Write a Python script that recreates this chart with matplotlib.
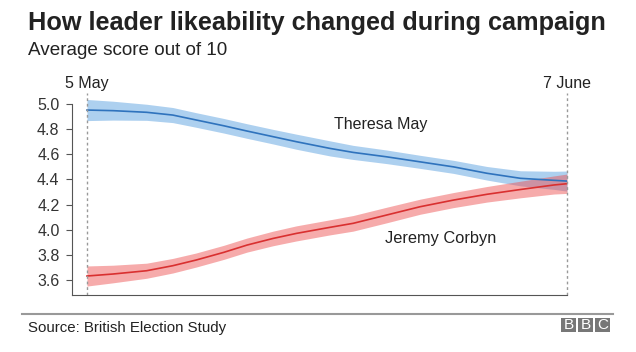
import numpy as np
import matplotlib
matplotlib.use("Agg")
import matplotlib.pyplot as plt
from matplotlib.patches import Rectangle

plt.rcParams['font.family'] = ['Liberation Sans', 'DejaVu Sans']

# days since 5 May 2017
days = [0, 1.8, 4.1, 5.9, 7.5, 9.4, 11, 12.8, 14.4, 16.7, 18.3, 20.6, 22.9, 25.2, 27.5, 29.8, 32.1, 33]
may = [4.952, 4.947, 4.934, 4.912, 4.873, 4.827, 4.785, 4.74, 4.70, 4.647,
       4.615, 4.58, 4.54, 4.50, 4.449, 4.409, 4.393, 4.387]
may_err = [0.084, 0.075, 0.064, 0.06, 0.058, 0.058, 0.058, 0.058, 0.06, 0.06,
           0.056, 0.054, 0.052, 0.052, 0.054, 0.06, 0.072, 0.08]
corbyn = [3.632, 3.648, 3.674, 3.714, 3.759, 3.82, 3.878, 3.931, 3.971, 4.019,
          4.051, 4.117, 4.183, 4.236, 4.282, 4.32, 4.356, 4.366]
corbyn_err = [0.08, 0.07, 0.06, 0.058, 0.056, 0.056, 0.056, 0.058, 0.06, 0.06,
              0.062, 0.062, 0.06, 0.06, 0.062, 0.066, 0.072, 0.077]
yticks = [3.6, 3.8, 4.0, 4.2, 4.4, 4.6, 4.8, 5.0]

fig = plt.figure(figsize=(6.36, 3.52), dpi=100)
ax = fig.add_axes([72/636, 1-295/352, (567-72)/636, (295-93)/352])

x = np.array(days)
m = np.array(may)
c = np.array(corbyn)
ax.fill_between(x, m - np.array(may_err), m + np.array(may_err), color='#4a97dd', alpha=0.45, lw=0)
ax.plot(x, m, color='#2f73bd', lw=1.2)
ax.fill_between(x, c - np.array(corbyn_err), c + np.array(corbyn_err), color='#ee5050', alpha=0.48, lw=0)
ax.plot(x, c, color='#d93030', lw=1.2)

ax.axvline(0, color='#999999', ls=(0, (2, 2)), lw=1, clip_on=False)
ax.axvline(33, color='#999999', ls=(0, (2, 2)), lw=1, clip_on=False)

ax.set_xlim(-1.03, 33)
ax.set_ylim(3.481, 5.0875)
ax.set_yticks(yticks)
ax.set_yticklabels(['%.1f' % v for v in yticks])
ax.set_xticks([])
for s in ['top', 'right']:
    ax.spines[s].set_visible(False)
ax.spines['left'].set_bounds(3.481, 5.0)
ax.spines['left'].set_color('#555555')
ax.spines['bottom'].set_color('#555555')
ax.tick_params(axis='y', length=4, color='#555555', labelsize=11.5, labelcolor='#333333', pad=5)

ax.text(20.2, 4.84, 'Theresa May', fontsize=11.5, color='#222222', ha='center', va='center')
ax.text(24.3, 3.934, 'Jeremy Corbyn', fontsize=11.8, color='#222222', ha='center', va='center')

fig.text(28/636, 1-30/352, 'How leader likeability changed during campaign', fontsize=18.2,
         fontweight='bold', color='#222222', ha='left', va='baseline')
fig.text(28/636, 1-55/352, 'Average score out of 10', fontsize=13.6, color='#222222',
         ha='left', va='baseline')
fig.text(87/636, 1-88/352, '5 May', fontsize=11.5, color='#222222', ha='center', va='baseline')
fig.text(567/636, 1-88/352, '7 June', fontsize=11.5, color='#222222', ha='center', va='baseline')

fig.add_artist(plt.Line2D([22/636, 613/636], [1-314/352, 1-314/352], color='#999999', lw=1.5))
fig.text(28/636, 1-332/352, 'Source: British Election Study', fontsize=10.8, color='#222222',
         ha='left', va='baseline')

for i, ch in enumerate('BBC'):
    x0 = 561 + i * 17
    fig.add_artist(Rectangle((x0/636, 1-332/352), 15/636, 14/352, color='#777777', lw=0))
    fig.text((x0 + 7.5)/636, 1-325/352, ch, fontsize=11, color='white',
             ha='center', va='center')

fig.savefig('out.png', dpi=100)
